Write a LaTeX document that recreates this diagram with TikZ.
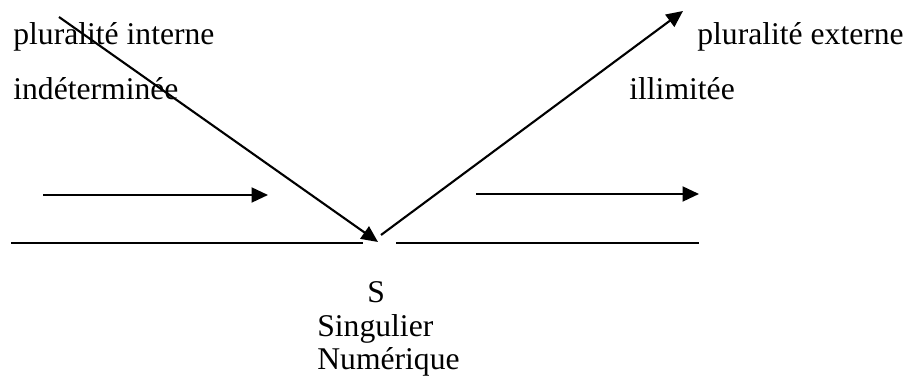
\documentclass[tikz,border=0pt]{standalone}
\usepackage{fontspec}
\setmainfont{Liberation Serif}
\usetikzlibrary{arrows.meta,positioning}

\begin{document}
\begin{tikzpicture}[font=\fontsize{18}{20}\selectfont,>={Triangle[length=0.33cm,width=0.3cm]},
  line join=round]
  \tikzset{lbl/.style={anchor=base west,inner sep=0pt},
    flow/.style={line width=1.2pt,->}}
  \useasboundingbox (0,0) rectangle (18.18,7.66);
  % ---------- labels ----------
  \node[lbl] (intA) at (0.26,6.76) {pluralité interne};
  \node[lbl] (intB) at (0.26,5.66) {indéterminée};
  \node[lbl] (extA) at (13.94,6.76) {pluralité externe};
  \node[lbl] (extB) at (12.58,5.66) {illimitée};
  \node[lbl] (sS)   at (7.34,1.6)  {S};
  \node[lbl] (sing) at (6.34,0.92) {Singulier};
  \node[lbl] (num)  at (6.34,0.26) {Numérique};

  % ---------- end points ----------
  \coordinate (inStart) at (1.18,7.32);
  \coordinate (inEnd)   at (7.56,2.82);
  \coordinate (outStart) at (7.62,2.96);
  \coordinate (outEnd)   at (13.66,7.44);
  \coordinate (hLa) at (0.86,3.76);
  \coordinate (hLb) at (5.36,3.76);
  \coordinate (hRa) at (9.52,3.78);
  \coordinate (hRb) at (13.98,3.78);
  \coordinate (bLa) at (0.22,2.8);
  \coordinate (bLb) at (7.26,2.8);
  \coordinate (bRa) at (7.92,2.8);
  \coordinate (bRb) at (13.98,2.8);

  % ---------- arrows ----------
  \draw[flow] (inStart) -- (inEnd);
  \draw[flow] (outStart) -- (outEnd);
  \draw[flow] (hLa) -- (hLb);
  \draw[flow] (hRa) -- (hRb);

  % ---------- base lines ----------
  \draw[line width=1.2pt] (bLa) -- (bLb);
  \draw[line width=1.2pt] (bRa) -- (bRb);
\end{tikzpicture}
\end{document}
